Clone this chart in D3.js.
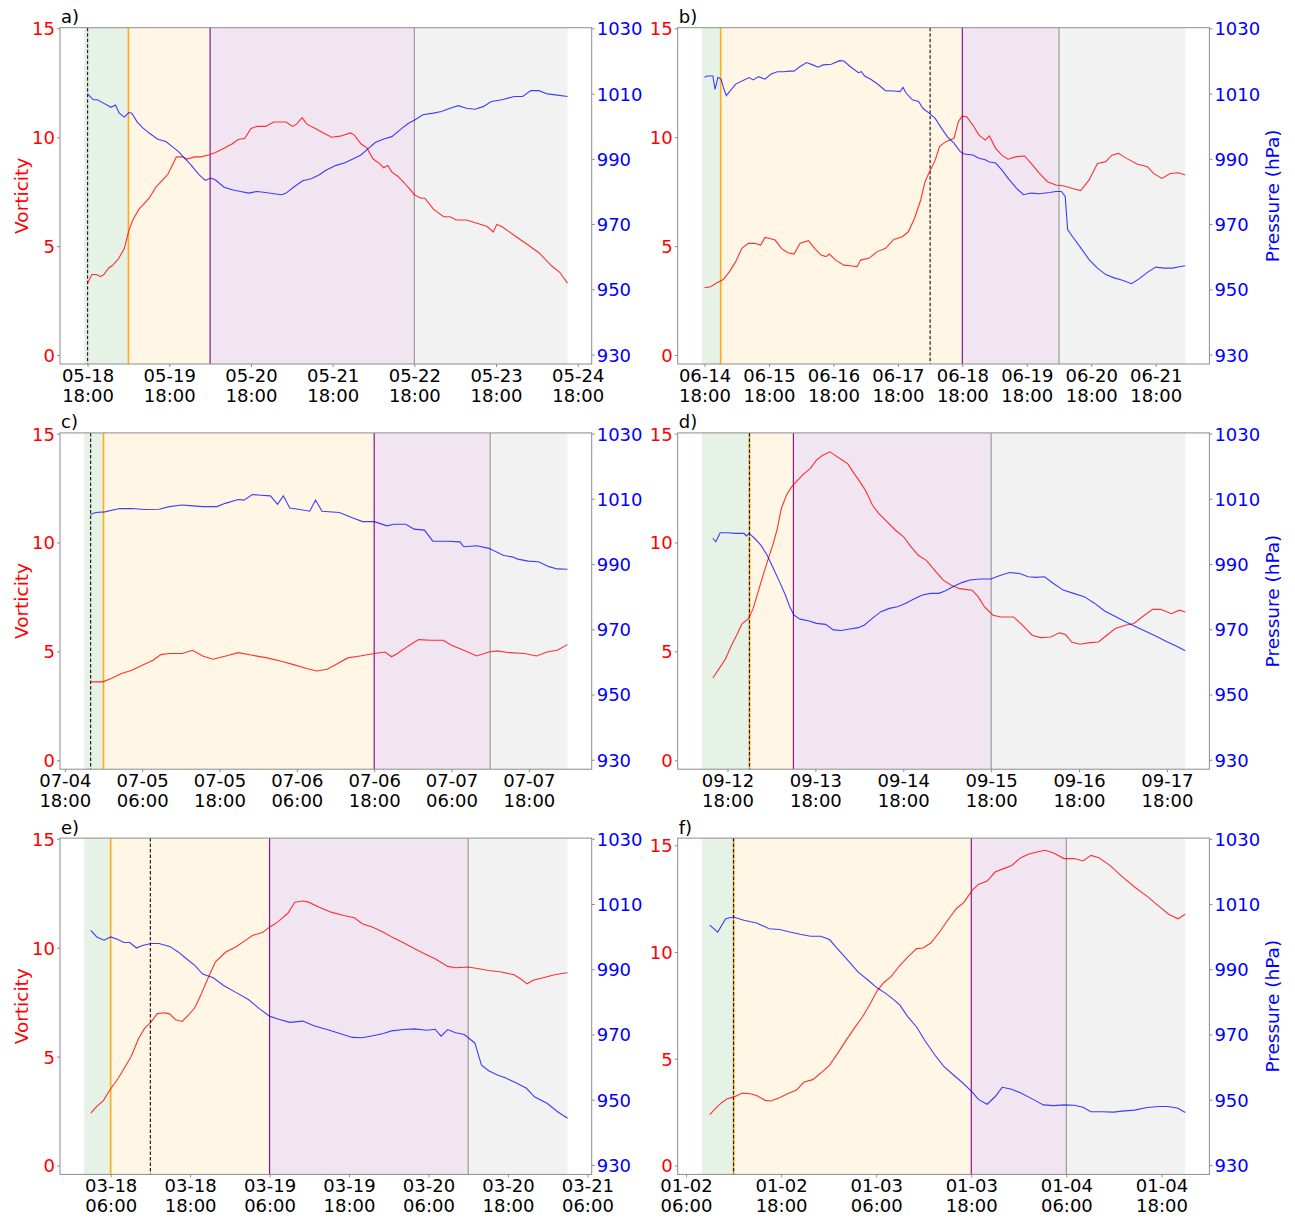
<!DOCTYPE html>
<html>
<head>
<meta charset="utf-8">
<script src="https://cdn.jsdelivr.net/npm/d3@7"></script>
<style>
  body { margin: 0; background: #fff; }
  svg { display: block; }
  text { font-family: "DejaVu Sans", "Liberation Sans", sans-serif; }
</style>
</head>
<body>
<svg id="chart" width="1295" height="1219"></svg>
<script>
// ---------- data: [hours since panel start, value] ----------

// a) start 05-18 18:00
const startA = "05-18 18:00";
const vorticityA = [[0,3.3],[1.3,3.7],[2.6,3.7],[3.8,3.6],[4.8,3.7],[6.2,4.0],[7.2,4.1],[9.0,4.4],[10.8,4.9],[12.1,5.7],[13.3,6.2],[15.1,6.7],[16.9,7.0],[18.1,7.2],[20.0,7.7],[21.8,8.0],[23.6,8.3],[26.1,9.1],[27.9,9.1],[29.1,9.0],[31.5,9.1],[33.4,9.1],[35.8,9.2],[37.6,9.3],[40.1,9.5],[42.5,9.7],[44.3,9.9],[46.2,9.95],[48.0,10.4],[49.8,10.5],[52.3,10.5],[54.7,10.7],[58.3,10.7],[60.2,10.5],[61.4,10.6],[63.0,10.9],[64.4,10.6],[66.9,10.4],[69.3,10.2],[71.7,10.0],[74.2,10.05],[77.2,10.2],[78.4,10.1],[80.3,9.7],[82.1,9.5],[83.9,9.0],[85.7,8.8],[87.0,8.6],[88.2,8.7],[89.4,8.4],[91.2,8.2],[93.1,7.9],[96.1,7.35],[98.0,7.2],[99.1,7.2],[101.6,6.7],[104.6,6.35],[106.5,6.35],[108.3,6.2],[111.3,6.2],[114.4,6.05],[117.4,5.9],[119.2,5.65],[120.2,6.0],[121.7,5.9],[125.3,5.5],[129.0,5.1],[132.6,4.7],[136.3,4.1],[138.7,3.8],[141,3.3]];
const pressureA = [[0,1009.9],[1.7,1008.1],[2.9,1008.1],[4.8,1007.0],[6.9,1005.8],[8.2,1006.5],[9.3,1004.0],[10.8,1002.8],[12.1,1004.2],[13.0,1004.0],[14.5,1001.4],[16.3,999.4],[18.1,997.9],[20.6,996.0],[23.0,995.3],[24.8,993.8],[26.7,992.2],[28.5,990.2],[30.3,988.2],[32.8,985.1],[34.6,983.4],[36.2,984.1],[37.6,983.5],[40.1,981.3],[42.5,980.5],[44.9,980.0],[47.4,979.5],[49.8,980.0],[52.3,979.7],[54.7,979.3],[57.1,979.0],[58.3,979.5],[60.8,981.5],[63.2,983.3],[65.7,983.9],[68.1,985.1],[69.9,986.4],[73.0,988.0],[75.4,988.7],[77.8,989.9],[80.3,991.2],[82.1,992.8],[84.5,995.0],[87.0,996.1],[89.4,996.8],[92.4,999.4],[94.3,1000.9],[96.1,1001.9],[98.5,1003.5],[101.6,1004.0],[104.0,1004.5],[106.5,1005.5],[108.9,1006.3],[111.3,1005.5],[113.8,1005.2],[116.2,1006.0],[118.6,1007.6],[121.7,1008.1],[125.3,1009.1],[127.8,1009.1],[130.2,1010.9],[132.6,1010.9],[135.1,1009.9],[137.5,1009.6],[141,1009.1]];
const phasesA = [-1, 12, 36, 96, 141];   // green start, orange, purple, gray, end
const markerA = 0;
const ticksA = ["05-18 18:00","05-19 18:00","05-20 18:00","05-21 18:00","05-22 18:00","05-23 18:00","05-24 18:00"];

// b) start 06-14 18:00
const startB = "06-14 18:00";
const vorticityB = [[0,3.09],[2.3,3.14],[4.6,3.32],[7.0,3.47],[9.3,3.83],[11.6,4.29],[13.9,4.9],[16.3,5.13],[18.6,5.13],[20.9,5.05],[22.5,5.4],[24.0,5.36],[26.3,5.28],[28.6,4.9],[31.0,4.7],[33.3,4.64],[35.6,5.13],[38.7,5.25],[41.0,4.9],[43.4,4.59],[45.2,4.52],[46.5,4.64],[48.8,4.36],[51.9,4.13],[55.0,4.09],[56.8,4.06],[58.1,4.36],[61.2,4.44],[64.3,4.75],[67.4,4.9],[70.5,5.31],[73.6,5.43],[75.9,5.66],[78.2,6.28],[80.5,7.12],[82.1,7.96],[83.6,8.37],[85.9,8.95],[87.5,9.57],[89.8,9.8],[92.9,9.95],[94.5,10.71],[96.0,10.97],[97.6,10.94],[99.9,10.56],[102.2,10.1],[104.5,9.87],[106.1,10.06],[108.4,9.49],[110.7,9.18],[113.0,8.99],[116.1,9.11],[119.2,9.14],[121.6,8.8],[124.7,8.34],[127.7,7.96],[130.8,7.81],[133.9,7.76],[137.0,7.65],[140.1,7.55],[143.2,8.04],[146.3,8.8],[149.4,8.88],[151.7,9.18],[154.1,9.26],[157.2,9.03],[161.0,8.77],[164.9,8.65],[167.2,8.34],[170.3,8.11],[173.4,8.34],[176.5,8.37],[179,8.27]];
const pressureB = [[0,1015.0],[1.1,1015.4],[3.1,1015.4],[3.9,1011.3],[5.0,1015.0],[6.2,1014.4],[7.0,1011.9],[8.1,1009.4],[9.3,1010.6],[11.6,1012.9],[14.7,1014.2],[16.6,1014.9],[18.1,1014.2],[20.1,1015.2],[22.5,1014.4],[24.8,1016.0],[27.1,1016.7],[29.4,1016.7],[31.7,1016.9],[33.3,1016.9],[35.6,1018.3],[38.0,1019.5],[40.3,1018.8],[42.3,1018.1],[44.1,1018.8],[47.2,1019.0],[50.3,1020.1],[51.9,1020.0],[54.2,1018.3],[57.3,1016.4],[58.4,1016.7],[59.6,1015.4],[61.9,1014.4],[64.3,1013.0],[67.4,1010.9],[70.5,1010.8],[72.8,1010.6],[73.9,1011.9],[75.1,1010.1],[77.4,1008.1],[79.7,1007.6],[81.3,1005.5],[83.6,1004.0],[85.9,1002.4],[88.2,999.4],[90.6,996.6],[92.9,994.8],[95.2,992.2],[96.8,991.5],[99.9,991.2],[102.2,990.2],[104.5,989.7],[106.1,989.0],[108.4,988.7],[110.7,986.6],[113.0,984.1],[116.1,981.0],[118.8,979.0],[121.6,979.5],[124.7,979.3],[128.5,979.7],[130.8,980.0],[132.9,980.0],[134.3,978.5],[135.2,968.3],[137.0,966.2],[140.1,962.7],[143.2,959.1],[146.3,956.5],[149.4,954.5],[152.5,953.5],[155.6,952.8],[159.0,951.7],[161.8,953.2],[164.9,955.2],[168.0,956.8],[171.1,956.5],[174.2,956.5],[177.3,957.0],[179,957.2]];
const phasesB = [-1, 6, 96, 132, 179];
const markerB = 84;
const ticksB = ["06-14 18:00","06-15 18:00","06-16 18:00","06-17 18:00","06-18 18:00","06-19 18:00","06-20 18:00","06-21 18:00"];

// c) start 07-04 18:00
const startC = "07-04 18:00";
const vorticityC = [[4.0,3.6],[5.9,3.6],[7.2,3.75],[8.8,3.98],[10.4,4.13],[12.0,4.36],[13.7,4.59],[14.9,4.85],[16.2,4.9],[18.2,4.9],[19.8,5.05],[21.4,4.79],[23.0,4.64],[25.0,4.79],[26.9,4.94],[29.1,4.82],[31.4,4.7],[33.6,4.55],[35.5,4.39],[37.5,4.21],[39.1,4.1],[40.7,4.18],[42.0,4.39],[43.9,4.7],[45.8,4.79],[48.0,4.9],[49.7,4.97],[50.7,4.75],[51.6,4.9],[53.3,5.25],[54.9,5.54],[56.8,5.51],[58.7,5.51],[60.0,5.28],[61.9,5.05],[63.9,4.79],[65.8,4.97],[67.1,5.02],[69.0,4.94],[71.3,4.9],[73.2,4.79],[74.8,4.97],[76.4,5.05],[78,5.31]];
const pressureC = [[4.0,1005.2],[4.8,1005.8],[6.2,1006.0],[8.5,1007.0],[10.4,1007.0],[12.4,1006.7],[14.6,1006.8],[16.2,1007.6],[18.2,1008.1],[19.4,1007.9],[21.4,1007.6],[23.6,1007.6],[24.9,1008.6],[26.9,1009.8],[27.8,1009.6],[29.1,1011.3],[30.4,1011.1],[31.9,1010.9],[33.0,1008.3],[33.9,1010.9],[34.9,1007.2],[36.2,1006.8],[38.0,1006.2],[38.9,1009.6],[39.9,1006.2],[42.6,1005.8],[44.6,1004.2],[46.2,1003.0],[48.0,1003.0],[50.0,1001.7],[51.0,1002.2],[52.9,1002.2],[54.2,1000.7],[55.8,1000.4],[57.1,997.0],[59.4,997.0],[61.3,996.8],[61.9,995.3],[63.9,995.6],[65.8,994.8],[68.1,992.6],[69.4,992.2],[70.3,991.5],[71.9,990.9],[73.5,990.7],[75.1,989.2],[76.4,988.5],[78,988.4]];
const phasesC = [3, 6, 48, 66, 78];
const markerC = 4;
const ticksC = ["07-04 18:00","07-05 06:00","07-05 18:00","07-06 06:00","07-06 18:00","07-07 06:00","07-07 18:00"];

// d) start 09-12 18:00
const startD = "09-12 18:00";
const vorticityD = [[-4.0,3.78],[-2.3,4.21],[-0.6,4.64],[1.1,5.28],[2.5,5.74],[4.0,6.28],[5.7,6.5],[7.0,6.96],[8.5,7.81],[10.0,8.65],[11.3,9.34],[12.5,9.95],[13.6,10.64],[14.7,11.56],[16.1,12.17],[17.5,12.55],[19.2,12.86],[20.9,13.16],[22.6,13.39],[24.3,13.78],[26.0,14.0],[28.0,14.16],[29.4,14.0],[31.1,13.81],[32.8,13.62],[34.6,13.16],[36.2,12.78],[37.9,12.32],[39.6,11.71],[41.3,11.33],[43.6,10.94],[45.9,10.56],[48.1,10.26],[49.8,9.87],[52.1,9.41],[54.3,9.18],[56.6,8.72],[58.9,8.27],[61.1,8.04],[63.4,7.88],[66.8,7.81],[68.5,7.5],[70.2,7.04],[72.5,6.66],[74.7,6.58],[78.1,6.58],[80.4,6.23],[83.2,5.74],[85.5,5.63],[88.3,5.66],[90.6,5.85],[92.3,5.77],[94.0,5.43],[96.2,5.33],[99.1,5.4],[101.3,5.43],[103.6,5.74],[105.9,6.05],[108.7,6.2],[111.0,6.28],[113.2,6.58],[116.1,6.93],[118.3,6.93],[121.2,6.73],[123.4,6.89],[125,6.81]];
const pressureD = [[-4.0,997.9],[-3.2,996.8],[-2.0,999.6],[0,999.6],[2.3,999.4],[4.5,999.4],[5.1,998.6],[5.9,999.4],[7.4,997.9],[9.1,995.8],[10.8,992.8],[12.5,988.7],[14.2,984.6],[15.8,980.5],[17.0,976.9],[18.1,974.4],[19.8,973.1],[22.1,972.6],[24.3,971.8],[26.8,971.5],[28.9,969.8],[31.1,969.6],[33.4,970.1],[35.7,970.5],[37.4,971.3],[39.6,973.4],[41.9,975.4],[44.2,976.4],[46.4,976.9],[48.7,978.0],[50.9,979.3],[53.2,980.5],[55.5,981.0],[57.7,981.0],[59.4,981.7],[61.7,983.1],[64.0,984.3],[66.2,985.1],[69.1,985.4],[71.9,985.4],[74.2,986.4],[77.0,987.4],[79.8,987.1],[82.1,986.1],[84.3,985.9],[86.6,986.1],[88.9,984.1],[91.7,982.0],[94.5,981.0],[97.4,980.0],[100.2,978.0],[103.0,975.6],[105.9,973.9],[108.7,972.3],[111.5,970.8],[114.3,969.3],[117.2,967.8],[120.0,966.2],[122.8,964.7],[125,963.4]];
const phasesD = [-7, 6, 18, 72, 125];
const markerD = 6;
const ticksD = ["09-12 18:00","09-13 18:00","09-14 18:00","09-15 18:00","09-16 18:00","09-17 18:00"];

// e) start 03-18 06:00
const startE = "03-18 06:00";
const vorticityE = [[-3.0,2.4],[-2.1,2.71],[-1.1,2.98],[0,3.52],[1.1,3.98],[2.0,4.44],[3.1,5.0],[4.2,5.82],[5.1,6.28],[6.1,6.58],[7.0,6.96],[8.0,7.01],[8.9,6.96],[9.8,6.69],[10.8,6.61],[11.7,6.89],[12.7,7.24],[13.6,7.81],[14.5,8.46],[15.8,9.34],[17.4,9.8],[18.9,10.03],[20.2,10.3],[21.4,10.56],[23.0,10.71],[24.0,10.94],[25.2,11.17],[26.8,11.59],[27.8,12.09],[29.0,12.14],[29.9,12.09],[31.5,11.86],[33.3,11.63],[35.2,11.48],[36.8,11.37],[38.0,11.1],[39.6,10.94],[41.2,10.71],[42.7,10.45],[44.3,10.21],[45.9,9.95],[47.4,9.72],[49.0,9.49],[50.9,9.14],[52.1,9.08],[54.0,9.11],[55.6,9.03],[57.1,8.95],[59.0,8.88],[60.9,8.76],[61.9,8.57],[62.9,8.34],[63.8,8.5],[65.3,8.62],[67.2,8.77],[69,8.85]];
const pressureE = [[-3.0,1001.9],[-2.1,999.9],[-1.0,998.9],[0,999.9],[1.1,999.1],[2.0,998.2],[2.9,998.2],[3.9,996.5],[4.8,997.3],[6.1,997.9],[7.3,997.9],[8.9,997.0],[10.2,995.3],[11.4,993.3],[12.7,991.2],[13.9,988.5],[15.5,987.4],[17.0,985.1],[18.9,982.9],[20.8,980.7],[22.4,978.0],[24.0,975.6],[25.5,974.6],[27.1,973.7],[29.0,974.1],[30.8,972.6],[32.7,971.5],[34.6,970.3],[36.5,969.1],[38.0,969.0],[39.6,969.6],[41.2,970.3],[42.4,971.1],[44.3,971.5],[45.9,971.7],[47.7,971.3],[49.0,971.6],[49.9,969.5],[50.9,971.5],[52.1,970.5],[53.4,970.0],[55.0,967.4],[56.0,960.6],[57.1,958.9],[58.4,957.6],[59.6,956.7],[61.2,955.2],[62.8,953.5],[64.0,950.9],[65.9,948.9],[67.5,946.3],[69,944.3]];
const phasesE = [-4, 0, 24, 54, 69];
const markerE = 6;
const ticksE = ["03-18 06:00","03-18 18:00","03-19 06:00","03-19 18:00","03-20 06:00","03-20 18:00","03-21 06:00"];

// f) start 01-02 06:00
const startF = "01-02 06:00";
const vorticityF = [[3.0,2.38],[3.7,2.66],[4.5,2.94],[5.2,3.13],[6.0,3.2],[7.1,3.39],[8.1,3.36],[8.9,3.28],[10.0,3.05],[10.7,3.02],[11.8,3.17],[12.8,3.36],[13.9,3.52],[14.9,3.91],[16.0,4.02],[17.0,4.33],[18.1,4.69],[19.1,5.23],[20.2,5.86],[21.2,6.41],[22.3,6.98],[23.3,7.61],[24.1,8.17],[24.9,8.55],[25.9,8.86],[27.0,9.38],[28.0,9.77],[29.1,10.16],[29.9,10.19],[30.9,10.42],[32.0,10.94],[33.0,11.48],[34.1,12.03],[35.1,12.34],[36.1,12.89],[36.9,13.17],[38.0,13.33],[39.0,13.75],[40.1,13.91],[41.1,14.06],[42.2,14.41],[43.2,14.58],[44.3,14.69],[45.3,14.77],[46.4,14.64],[47.7,14.38],[49.0,14.38],[50.1,14.27],[51.1,14.53],[52.1,14.42],[53.5,14.06],[55.0,13.55],[56.6,13.05],[58.2,12.61],[59.7,12.14],[60.9,11.77],[62.1,11.56],[63,11.77]];
const pressureF = [[3.0,1003.5],[4.0,1001.4],[5.0,1005.5],[6.0,1006.0],[7.3,1005.0],[8.9,1004.2],[10.5,1002.4],[11.8,1002.2],[13.1,1001.4],[14.4,1000.7],[15.7,1000.1],[17.0,1000.1],[18.1,999.1],[19.1,996.3],[20.4,992.8],[21.7,989.2],[23.1,986.4],[24.1,984.3],[25.2,982.6],[26.2,980.7],[27.0,979.0],[28.0,975.4],[29.1,972.3],[30.1,968.3],[31.4,963.7],[32.5,960.3],[33.5,958.1],[34.9,955.2],[36.1,952.4],[36.9,950.1],[38.0,948.6],[39.0,950.9],[39.9,953.8],[41.1,953.2],[42.2,952.1],[43.8,950.1],[45.1,948.4],[46.4,948.2],[47.7,948.4],[49.0,948.3],[50.1,947.7],[51.1,946.3],[52.4,946.3],[54.0,946.2],[55.0,946.5],[56.6,946.8],[58.2,947.6],[59.7,947.9],[60.8,947.9],[62.1,947.4],[63,946.1]];
const phasesF = [2, 6, 36, 48, 63];
const markerF = 6;
const ticksF = ["01-02 06:00","01-02 18:00","01-03 06:00","01-03 18:00","01-04 06:00","01-04 18:00"];

// axis limits and ticks
const vorticityLimits = [-0.41, 15.03];
const vorticityLimitsF = [-0.42, 15.34];
const pressureLimits = [927.1, 1030.2];
const vorticityTicks = [0, 5, 10, 15];
const pressureTicks = [930, 950, 970, 990, 1010, 1030];

// phase shading and boundary styles
const phaseFill = ["green", "orange", "purple", "gray"];
const boundaryStroke = ["orange", "purple", "gray"];

// ---------- assemble panels ----------
const panels = [
  {id: "a", start: startA, vort: vorticityA, pres: pressureA, phases: phasesA, marker: markerA, ticks: ticksA, vlim: vorticityLimits},
  {id: "b", start: startB, vort: vorticityB, pres: pressureB, phases: phasesB, marker: markerB, ticks: ticksB, vlim: vorticityLimits},
  {id: "c", start: startC, vort: vorticityC, pres: pressureC, phases: phasesC, marker: markerC, ticks: ticksC, vlim: vorticityLimits},
  {id: "d", start: startD, vort: vorticityD, pres: pressureD, phases: phasesD, marker: markerD, ticks: ticksD, vlim: vorticityLimits},
  {id: "e", start: startE, vort: vorticityE, pres: pressureE, phases: phasesE, marker: markerE, ticks: ticksE, vlim: vorticityLimits},
  {id: "f", start: startF, vort: vorticityF, pres: pressureF, phases: phasesF, marker: markerF, ticks: ticksF, vlim: vorticityLimitsF}
];

// ---------- layout ----------
const colX = [60, 677.7];
const rowY = [27.7, 432.9, 838.1];
const plotW = 531.7, plotH = 336.3;
const FONT = 18;

const parseStamp = s => {
  const [md, hm] = s.split(" ");
  const [mo, dy] = md.split("-").map(Number);
  const [hh, mm] = hm.split(":").map(Number);
  return new Date(Date.UTC(2000, mo - 1, dy, hh, mm));
};
const HOUR = 3600e3;
const fmtDay = d3.utcFormat("%m-%d");
const fmtTime = d3.utcFormat("%H:%M");
const fmtInt = d3.format("d");

const svg = d3.select("#chart");

panels.forEach((p, i) => {
  const x0 = colX[i % 2], y0 = rowY[Math.floor(i / 2)];
  const isLeft = i % 2 === 0;
  const base = parseStamp(p.start).getTime();
  const at = h => new Date(base + h * HOUR);

  const first = p.phases[0], last = p.phases[p.phases.length - 1];
  const pad = 0.05 * (last - first);
  const x = d3.scaleUtc().domain([at(first - pad), at(last + pad)]).range([0, plotW]);
  const yV = d3.scaleLinear().domain(p.vlim).range([plotH, 0]);
  const yP = d3.scaleLinear().domain(pressureLimits).range([plotH, 0]);

  const g = svg.append("g").attr("transform", `translate(${x0},${y0})`);

  // phase shading
  g.append("g").selectAll("rect")
    .data(d3.pairs(p.phases))
    .join("rect")
    .attr("x", d => x(at(d[0])))
    .attr("width", d => x(at(d[1])) - x(at(d[0])))
    .attr("y", 0)
    .attr("height", plotH)
    .attr("fill", (d, k) => phaseFill[k])
    .attr("fill-opacity", 0.1);

  // phase boundary lines
  g.append("g").selectAll("line")
    .data(p.phases.slice(1, 4))
    .join("line")
    .attr("x1", d => x(at(d))).attr("x2", d => x(at(d)))
    .attr("y1", 0).attr("y2", plotH)
    .attr("stroke", (d, k) => boundaryStroke[k])
    .attr("stroke-width", (d, k) => k === 0 ? 1.6 : 1.2)
    .attr("stroke-opacity", (d, k) => k === 2 ? 0.75 : 0.9);

  // dashed marker
  g.append("line")
    .attr("x1", x(at(p.marker))).attr("x2", x(at(p.marker)))
    .attr("y1", 0).attr("y2", plotH)
    .attr("stroke", "#222")
    .attr("stroke-width", 1.2)
    .attr("stroke-dasharray", "3.5,2");

  // series
  const lineV = d3.line().x(d => x(at(d[0]))).y(d => yV(d[1]));
  const lineP = d3.line().x(d => x(at(d[0]))).y(d => yP(d[1]));
  g.append("path").datum(p.vort).attr("d", lineV)
    .attr("fill", "none").attr("stroke", "red").attr("stroke-width", 1.1).attr("stroke-opacity", 0.8);
  g.append("path").datum(p.pres).attr("d", lineP)
    .attr("fill", "none").attr("stroke", "blue").attr("stroke-width", 1.1).attr("stroke-opacity", 0.75);

  // frame
  g.append("rect").attr("width", plotW).attr("height", plotH)
    .attr("fill", "none").attr("stroke", "#8c8c8c").attr("stroke-width", 1);

  // left axis (vorticity)
  const axL = g.append("g").call(d3.axisLeft(yV).tickValues(vorticityTicks).tickFormat(fmtInt).tickSize(3).tickPadding(2));
  axL.select(".domain").remove();
  axL.selectAll(".tick line").attr("stroke", "#8c8c8c");
  axL.selectAll(".tick text").attr("fill", "red").attr("font-size", FONT)
    .attr("font-family", "DejaVu Sans").attr("dy", "0.36em");

  // right axis (pressure)
  const axR = g.append("g").attr("transform", `translate(${plotW},0)`)
    .call(d3.axisRight(yP).tickValues(pressureTicks).tickFormat(fmtInt).tickSize(3).tickPadding(2));
  axR.select(".domain").remove();
  axR.selectAll(".tick line").attr("stroke", "#8c8c8c");
  axR.selectAll(".tick text").attr("fill", "blue").attr("font-size", FONT)
    .attr("font-family", "DejaVu Sans").attr("dy", "0.36em");

  // bottom axis (time, two-line labels)
  const axB = g.append("g").attr("transform", `translate(0,${plotH})`)
    .call(d3.axisBottom(x).tickValues(p.ticks.map(parseStamp)).tickSize(3).tickPadding(2));
  axB.select(".domain").remove();
  axB.selectAll(".tick line").attr("stroke", "#8c8c8c");
  axB.selectAll(".tick text").each(function(d) {
    const t = d3.select(this).text(null).attr("dy", null).attr("y", null)
      .attr("fill", "#000").attr("font-size", FONT).attr("font-family", "DejaVu Sans");
    t.append("tspan").attr("x", 0).attr("y", 17.7).text(fmtDay(d));
    t.append("tspan").attr("x", 0).attr("y", 37.7).text(fmtTime(d));
  });

  // panel letter
  g.append("text").attr("x", 1).attr("y", -4.5)
    .attr("font-size", FONT).attr("fill", "#000").text(p.id + ")");

  // axis titles
  if (isLeft) {
    g.append("text")
      .attr("transform", `translate(${21 - x0},${plotH / 2}) rotate(-90)`)
      .attr("text-anchor", "middle").attr("dominant-baseline", "central")
      .attr("font-size", 18.5).attr("fill", "red").text("Vorticity");
  } else {
    g.append("text")
      .attr("transform", `translate(${1272 - x0},${plotH / 2}) rotate(-90)`)
      .attr("text-anchor", "middle").attr("dominant-baseline", "central")
      .attr("font-size", 18.5).attr("fill", "blue").text("Pressure (hPa)");
  }
});
</script>
</body>
</html>
